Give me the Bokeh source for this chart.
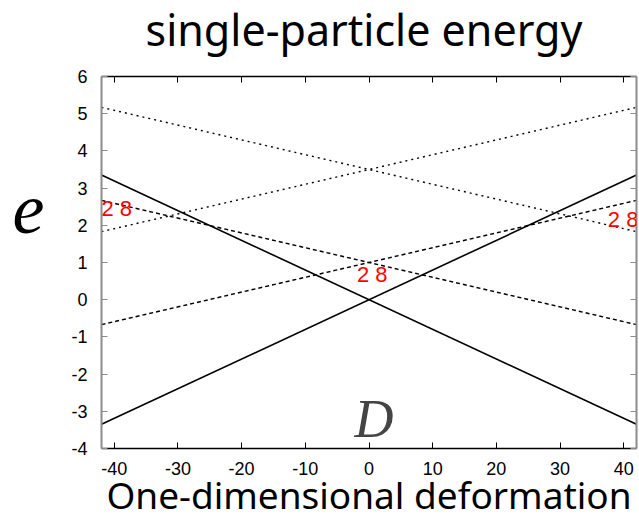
from bokeh.plotting import figure
from bokeh.models import Range1d, FixedTicker, LinearAxis, Label
from bokeh.core.properties import value
from bokeh.layouts import column, row
from bokeh.embed import file_html
from bokeh.resources import INLINE

# deformation range and level endpoints
deformation = [-42, 42]
solid_falling = [3.35, -3.35]
solid_rising = [-3.35, 3.35]
dashed_falling = [2.67, -0.67]
dashed_rising = [-0.67, 2.67]
dotted_falling = [5.17, 1.83]
dotted_rising = [1.83, 5.17]

x_ticks = [-40, -30, -20, -10, 0, 10, 20, 30, 40]
x_tick_labels = ["-40", "-30", "-20", "-10", "0", "10", "20", "30", "40"]
y_ticks = [-4, -3, -2, -1, 0, 1, 2, 3, 4, 5, 6]
y_tick_labels = ["-4", "-3", "-2", "-1", "0", "1", "2", "3", "4", "5", "6"]

# magic-number annotations (text, deformation, energy)
magic_labels = [("2 8", -42.0, 2.45), ("2 8", -1.9, 0.68), ("2 8", 37.5, 2.15)]

TOTAL_W, HEADER_H, SIDE_W = 639, 62, 50
BODY_H = 522 - HEADER_H


def blank_panel(w, h):
    """A bare figure whose data units are pixels, used for free-standing text."""
    f = figure(width=w, height=h, output_backend="svg", toolbar_location=None,
               x_range=Range1d(0, w), y_range=Range1d(0, h),
               min_border=0, min_border_left=0, min_border_right=0,
               min_border_top=0, min_border_bottom=0)
    f.axis.visible = False
    f.grid.visible = False
    f.outline_line_color = None
    f.background_fill_color = "white"
    f.border_fill_color = "white"
    return f


# title strip
header = blank_panel(TOTAL_W, HEADER_H)
header.text(x=[363.5], y=[33], text=["single-particle energy"], text_font=value("Noto Sans"),
            text_font_size="43px", text_align="center", text_baseline="middle", text_color="black")

# y-axis symbol to the left of the plot
side = blank_panel(SIDE_W, BODY_H)
side.text(x=[28], y=[296], text=["e"], text_font=value("Liberation Serif"),
          text_font_style="italic", text_font_size="72px", text_align="center",
          text_baseline="middle", text_color="black")

p = figure(width=TOTAL_W - SIDE_W, height=BODY_H, output_backend="svg", toolbar_location=None,
           x_range=Range1d(-42, 42), y_range=Range1d(-4, 6),
           min_border_left=101 - SIDE_W, min_border_right=3, min_border_top=14, min_border_bottom=73)
p.grid.visible = False
p.outline_line_color = None
p.background_fill_color = "white"
p.border_fill_color = "white"

p.line(deformation, solid_falling, color="black", line_width=1.6)
p.line(deformation, solid_rising, color="black", line_width=1.6)
p.line(deformation, dashed_falling, color="black", line_width=1.4, line_dash="4 3")
p.line(deformation, dashed_rising, color="black", line_width=1.4, line_dash="4 3")
p.line(deformation, dotted_falling, color="black", line_width=1.4, line_dash="2 4")
p.line(deformation, dotted_rising, color="black", line_width=1.4, line_dash="2 4")


def style_axis(ax, color):
    ax.axis_line_color = color
    ax.axis_line_width = 2 if color != "black" else 1.5
    ax.major_tick_line_color = color
    ax.major_tick_in = 6
    ax.major_tick_out = 0
    ax.minor_tick_line_color = None
    ax.major_label_text_font = "Liberation Sans"
    ax.major_label_text_font_size = "18px"
    ax.major_label_text_color = "black"


for ax in p.xaxis:
    ax.ticker = FixedTicker(ticks=x_ticks)
    ax.major_label_overrides = dict(zip(x_ticks, x_tick_labels))
    style_axis(ax, "black")
    ax.major_label_standoff = 13
    ax.axis_label = "One-dimensional deformation"
    ax.axis_label_text_font = "Noto Sans"
    ax.axis_label_text_font_style = "normal"
    ax.axis_label_text_font_size = "37px"
    ax.axis_label_text_color = "black"
    ax.axis_label_standoff = -9

for ax in p.yaxis:
    ax.ticker = FixedTicker(ticks=y_ticks)
    ax.major_label_overrides = dict(zip(y_ticks, y_tick_labels))
    style_axis(ax, "#8c8c8c")
    ax.major_label_standoff = 14

# mirrored tick marks along the top and right edges, without labels
top_axis = LinearAxis(ticker=FixedTicker(ticks=x_ticks))
style_axis(top_axis, "black")
top_axis.major_label_text_color = None
top_axis.major_label_text_font_size = "2px"
top_axis.major_label_standoff = 0
p.add_layout(top_axis, "above")

right_axis = LinearAxis(ticker=FixedTicker(ticks=y_ticks))
style_axis(right_axis, "#8c8c8c")
right_axis.major_label_text_color = None
right_axis.major_label_text_font_size = "2px"
right_axis.major_label_standoff = 0
p.add_layout(right_axis, "right")

for text, dx, ey in magic_labels:
    p.add_layout(Label(x=dx, y=ey, text=text, text_color="red", text_font="Liberation Sans",
                       text_font_size="22px", text_baseline="middle", text_align="left"))

p.add_layout(Label(x=0.8, y=-4.0, text="D", text_font="Liberation Serif", text_font_style="italic",
                   text_font_size="54px", text_baseline="bottom", text_align="center"))

layout = column(header, row(side, p, spacing=0), spacing=0)
open("out.html", "w").write(file_html(layout, INLINE))
